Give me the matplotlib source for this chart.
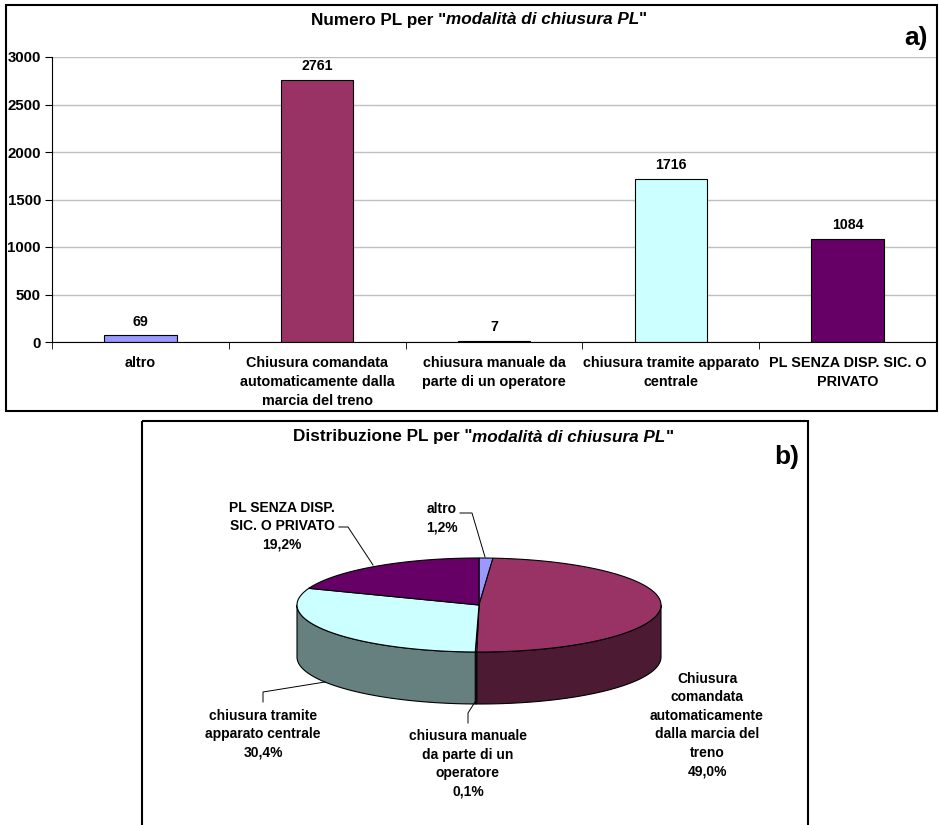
import matplotlib
matplotlib.use("Agg")
import matplotlib.pyplot as plt
from matplotlib.patches import Polygon, Rectangle
import numpy as np

plt.rcParams['font.family'] = ['Liberation Sans', 'DejaVu Sans']

W, H = 939, 825

# dati: numero di PL per modalità di chiusura
categorie = ["altro",
             "Chiusura comandata\nautomaticamente dalla\nmarcia del treno",
             "chiusura manuale da\nparte di un operatore",
             "chiusura tramite apparato\ncentrale",
             "PL SENZA DISP. SIC. O\nPRIVATO"]
valori = [69, 2761, 7, 1716, 1084]
yticks = [0, 500, 1000, 1500, 2000, 2500, 3000]

# etichette della torta (stesso ordine)
etichette_torta = ["altro",
                   "Chiusura\ncomandata\nautomaticamente\ndalla marcia del\ntreno",
                   "chiusura manuale\nda parte di un\noperatore",
                   "chiusura tramite\napparato centrale",
                   "PL SENZA DISP.\nSIC. O PRIVATO"]

colori = ['#9999FF', '#993366', '#FFFFCC', '#CCFFFF', '#660066']
colori_lato = ['#4D4D80', '#4D1A33', '#808066', '#668080', '#330033']


def fig_rect(x0, y0, x1, y1):
    # rettangolo in pixel (origine in alto a sinistra) -> frazioni di figura
    return [x0 / W, 1 - y1 / H, (x1 - x0) / W, (y1 - y0) / H]


def titolo_misto(ax, parti, xc, y, size):
    """Scrive un titolo con parti in grassetto e grassetto corsivo, centrato su xc."""
    r = ax.figure.canvas.get_renderer()
    testi = []
    for s, stile in parti:
        t = ax.text(0, y, s, fontsize=size, fontweight='bold', fontstyle=stile,
                    ha='left', va='center')
        testi.append(t)
    larghezze = [t.get_window_extent(r).width for t in testi]
    x = xc - sum(larghezze) / 2
    for t, w in zip(testi, larghezze):
        t.set_x(x)
        x += w


fig = plt.figure(figsize=(W / 100, H / 100), dpi=100)

# asse di sfondo in pixel: cornici, torta, titoli
bg = fig.add_axes([0, 0, 1, 1])
bg.set_xlim(0, W)
bg.set_ylim(H, 0)
bg.axis('off')

bg.add_patch(Rectangle((6, 5), 931, 406, fill=False, ec='black', lw=1.5))
bg.add_patch(Rectangle((142, 421), 666, 420, fill=False, ec='black', lw=1.5))

titolo_misto(bg, [('Numero PL per "', 'normal'), ('modalità di chiusura PL', 'italic'),
                  ('"', 'normal')], 479, 20, 12.3)
bg.text(916, 38, 'a)', fontsize=19, fontweight='bold', ha='center', va='center')

titolo_misto(bg, [('Distribuzione PL per "', 'normal'), ('modalità di chiusura PL', 'italic'),
                  ('"', 'normal')], 483, 437, 12.3)
bg.text(787, 457, 'b)', fontsize=19, fontweight='bold', ha='center', va='center')

# --- a) istogramma ---
ax = fig.add_axes(fig_rect(52, 57, 936, 342))
ax.patch.set_alpha(0)
x = np.arange(len(valori)) + 0.5
barre = ax.bar(x, valori, width=0.41, color=colori, edgecolor='black', linewidth=0.8)
ax.bar_label(barre, padding=5, fontsize=10.2, fontweight='bold')
ax.set_xlim(0, len(valori))
ax.set_ylim(0, 3000)
ax.set_yticks(yticks)
ax.set_yticklabels([str(v) for v in yticks], fontsize=10.8, fontweight='bold')
ax.set_xticks(x)
ax.set_xticklabels(categorie, fontsize=10.4, fontweight='bold', linespacing=1.45, va='top')
ax.set_xticks(np.arange(len(valori) + 1), minor=True)
ax.tick_params(axis='x', which='major', length=0, pad=10)
ax.tick_params(axis='x', which='minor', length=5, direction='out')
ax.tick_params(axis='y', length=5, direction='out', pad=3)
ax.yaxis.grid(True, color='#C0C0C0', lw=1)
ax.set_axisbelow(True)
for s in ['top', 'right']:
    ax.spines[s].set_visible(False)
ax.spines['left'].set_linewidth(0.8)
ax.spines['bottom'].set_linewidth(0.8)

# --- b) torta 3D ---
cx, cy, rx, ry, spessore = 479, 605, 182, 47, 52
frazioni = np.array(valori) / sum(valori)
limiti = 90 - 360 * np.concatenate([[0], np.cumsum(frazioni)])


def arco(a_da, a_a, dy=0):
    t = np.radians(np.linspace(a_da, a_a, max(3, int(abs(a_a - a_da) * 2))))
    return np.column_stack([cx + rx * np.cos(t), cy - ry * np.sin(t) + dy])


for i in range(len(valori)):
    a1, a2 = limiti[i], limiti[i + 1]
    # lato frontale visibile (angoli tra -180 e 0)
    hi, lo = min(a1, 0), max(a2, -180)
    if hi > lo:
        lato = np.vstack([arco(hi, lo), arco(lo, hi, spessore)])
        bg.add_patch(Polygon(lato, closed=True, fc=colori_lato[i], ec='black', lw=0.8, zorder=1))
for i in range(len(valori)):
    a1, a2 = limiti[i], limiti[i + 1]
    sopra = np.vstack([[cx, cy], arco(a1, a2)])
    bg.add_patch(Polygon(sopra, closed=True, fc=colori[i], ec='black', lw=0.8, zorder=2))

percentuali = [f"{100 * f:.1f}".replace('.', ',') + '%' for f in frazioni]
pos_etichette = [(442, 518), (707, 725), (468, 764), (263, 734), (282, 526)]
for lab, pct, (lx, ly) in zip(etichette_torta, percentuali, pos_etichette):
    bg.text(lx, ly, lab + '\n' + pct, fontsize=10, fontweight='bold', ha='center',
            va='center', multialignment='center', linespacing=1.4, zorder=3)

# linee di richiamo
richiami = [([460, 472, 485], [513, 513, 557]),
            ([339, 348, 373], [527, 527, 565]),
            ([468, 468, 475], [723, 713, 702]),
            ([263, 263, 325], [702, 692, 682])]
for xs, ys in richiami:
    bg.plot(xs, ys, color='black', lw=0.7, zorder=3)

fig.savefig('out.png', dpi=100)
